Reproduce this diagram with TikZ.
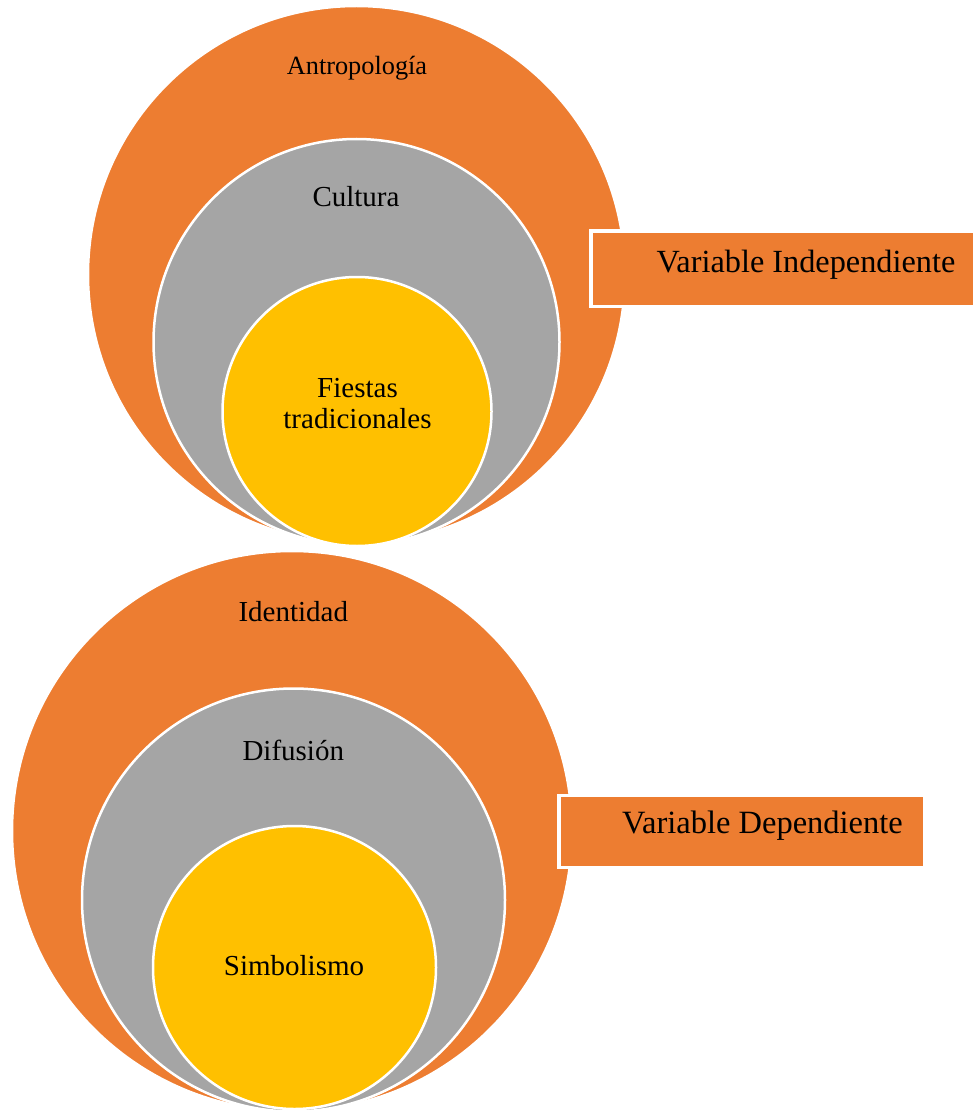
\documentclass[tikz,border=0pt]{standalone}
\usepackage{fontspec}
\setmainfont{Liberation Serif}
\definecolor{worange}{HTML}{ED7D31}
\definecolor{wgray}{HTML}{A5A5A5}
\definecolor{wgold}{HTML}{FFC000}
\tikzset{
  ring/.style={circle, inner sep=0pt, draw=white, line width=2.5pt},
  outerc/.style={ring, fill=worange},
  midc/.style={ring, fill=wgray},
  innerc/.style={ring, fill=wgold},
  varbox/.style={draw=white, line width=3.5pt, fill=worange},
  lbl/.style={anchor=base, inner sep=0pt, text=black, align=center},
}
\begin{document}
\begin{tikzpicture}[x=1pt, y=-1pt]
\useasboundingbox (0,0) rectangle (972,1110);
% ---- top group ----
\node[outerc, minimum size=537pt] (o1) at (356.5,274.5) {};
\node[midc, minimum size=406pt] (g1) at (356.5,342) {};
\node[innerc, minimum size=269pt] (y1) at (357,411.5) {};
\path[varbox] (591,231) rectangle (978,306.5);
\node[lbl, font=\fontsize{26.3}{28}\selectfont] (t1) at (357,75) {Antropología};
\node[lbl, font=\fontsize{29}{31}\selectfont] (t2) at (356,206.7) {Cultura};
\node[lbl, font=\fontsize{29}{30.6}\selectfont] (t3) at (357.5,428.3) {Fiestas\\tradicionales};
\node[lbl, font=\fontsize{32.3}{34}\selectfont] (t4) at (806,272) {Variable Independiente};
% ---- bottom group ----
\node[outerc, minimum size=560pt] (o2) at (292,831) {};
\node[midc, minimum size=423pt] (g2) at (293.5,900) {};
\node[innerc, minimum size=283pt] (y2) at (294.5,967.5) {};
\path[varbox] (559,795.5) rectangle (925,867.5);
\node[lbl, font=\fontsize{29}{31}\selectfont] (t5) at (293.3,621.7) {Identidad};
\node[lbl, font=\fontsize{29}{31}\selectfont] (t6) at (293.3,760) {Difusión};
\node[lbl, font=\fontsize{29}{31}\selectfont] (t7) at (294,975.7) {Simbolismo};
\node[lbl, font=\fontsize{32.5}{34}\selectfont] (t8) at (762.5,833) {Variable Dependiente};
\end{tikzpicture}
\end{document}
